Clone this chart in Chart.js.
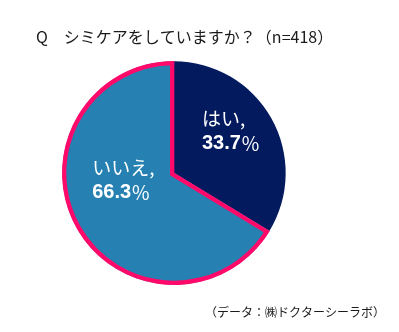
<!DOCTYPE html>
<html>
<head>
<meta charset="utf-8">
<script src="https://cdn.jsdelivr.net/npm/chart.js@4"></script>
<style>
    html, body { margin: 0; padding: 0; background: #fff; }
    #wrap { width: 399px; height: 332px; position: relative; }
</style>
</head>
<body>
<div id="wrap"><canvas id="pieChart" width="399" height="332"></canvas></div>
<script>
// ==================== DATA ====================
const categories = ['はい', 'いいえ'];
const shares = [33.7, 66.3];
const titleText = 'Q　シミケアをしていますか？（n=418）';
const sourceText = '（データ：㈱ドクターシーラボ）';

const jpFont = '"Noto Sans CJK JP", "Noto Sans", sans-serif';
const numFont = '"Liberation Sans", Arial, sans-serif';

// label anchors as fractions of the radius from the centre (x, y)
const labelAnchor = [[0.25, -0.38], [-0.73, 0.06]];

// ==================== TEXT PLUGIN ====================
const textPlugin = {
    id: 'pieText',
    afterDraw(chart) {
        const ctx = chart.ctx;
        ctx.save();
        ctx.textBaseline = 'middle';
        ctx.textAlign = 'left';

        // title + source
        ctx.fillStyle = '#1a1a1a';
        ctx.font = '16px ' + jpFont;
        ctx.fillText(titleText, 36, 37);
        ctx.font = '12px ' + jpFont;
        ctx.fillText(sourceText, 205, 312);

        // slice labels
        const meta = chart.getDatasetMeta(0);
        meta.data.forEach((arc, i) => {
            const r = arc.outerRadius;
            const x = arc.x + labelAnchor[i][0] * r;
            const y = arc.y + labelAnchor[i][1] * r;
            ctx.fillStyle = '#ffffff';
            ctx.font = '19px ' + jpFont;
            ctx.fillText(categories[i] + ',', x, y - 12);
            const num = shares[i].toFixed(1);
            ctx.font = 'bold 20px ' + numFont;
            ctx.fillText(num, x, y + 13);
            const w = ctx.measureText(num).width;
            ctx.font = '19px ' + jpFont;
            ctx.fillText('％', x + w, y + 13);
        });
        ctx.restore();
    }
};

// ==================== CHART ====================
new Chart(document.getElementById('pieChart'), {
    type: 'pie',
    data: {
        labels: categories,
        datasets: [{
            data: shares,
            backgroundColor: ['#031a5f', '#2681b2'],
            borderColor: ['#031a5f', '#ff0a6a'],
            borderWidth: [0, 4],
            borderAlign: 'inner',
            borderJoinStyle: 'miter'
        }]
    },
    options: {
        responsive: false,
        animation: false,
        radius: 112,
        layout: { padding: { left: 50, right: 101, top: 50, bottom: 36 } },
        plugins: {
            legend: { display: false },
            tooltip: { enabled: false }
        }
    },
    plugins: [textPlugin]
});
</script>
</body>
</html>
